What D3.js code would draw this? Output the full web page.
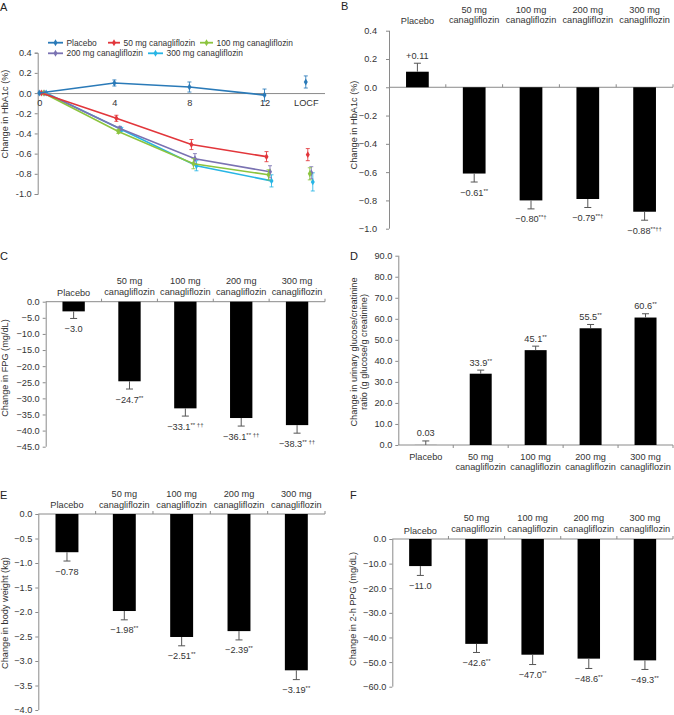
<!DOCTYPE html>
<html><head><meta charset="utf-8">
<script src="https://cdn.jsdelivr.net/npm/d3@7"></script>
<style>
body{margin:0;background:#fff}
svg{display:block;font-family:"Liberation Sans",Arial,Helvetica,sans-serif}
</style></head><body>
<svg id="c" width="674" height="715"></svg>
<script>
// ---------- DATA ----------
const categories = [["Placebo"],["50 mg","canagliflozin"],["100 mg","canagliflozin"],["200 mg","canagliflozin"],["300 mg","canagliflozin"]];

// Panel A: HbA1c over time
const weeks = [0, 4, 8, 12];
const locfWeek = 14.2;
const weekTickLabels = ["0", "4", "8", "12", "LOCF"];
const seriesNames = ["Placebo", "50 mg canagliflozin", "100 mg canagliflozin", "200 mg canagliflozin", "300 mg canagliflozin"];
const placeboTime = [0, 0.10, 0.06, -0.02];
const cana50Time  = [0, -0.25, -0.51, -0.63];
const cana100Time = [0, -0.38, -0.70, -0.81];
const cana200Time = [0, -0.35, -0.65, -0.78];
const cana300Time = [0, -0.36, -0.72, -0.87];
const placeboTimeErr = [0, 0.03, 0.05, 0.06];
const cana50TimeErr  = [0, 0.03, 0.05, 0.05];
const cana100TimeErr = [0, 0.02, 0.05, 0.05];
const cana200TimeErr = [0, 0.02, 0.05, 0.06];
const cana300TimeErr = [0, 0.02, 0.05, 0.06];
const locfValues = [0.11, -0.61, -0.80, -0.79, -0.88];
const locfErr = [0.06, 0.06, 0.06, 0.06, 0.09];

// Panel B: HbA1c change
const hba1c = [0.11, -0.61, -0.80, -0.79, -0.88];
const hba1cErr = [0.06, 0.06, 0.06, 0.06, 0.06];
const hba1cSup = ["", "**", "**\u2020", "**\u2020", "**\u2020\u2020"];
const hba1cTicks = [0.4, 0.2, 0.0, -0.2, -0.4, -0.6, -0.8, -1.0];

// Panel C: FPG
const fpg = [-3.0, -24.7, -33.1, -36.1, -38.3];
const fpgErr = [2.2, 2.4, 2.4, 2.5, 2.5];
const fpgSup = ["", "**", "** \u2020\u2020", "** \u2020\u2020", "** \u2020\u2020"];
const fpgTicks = [0, -5, -10, -15, -20, -25, -30, -35, -40, -45];

// Panel D: urinary glucose/creatinine
const ugcr = [0.03, 33.9, 45.1, 55.5, 60.6];
const ugcrErr = [1.9, 1.7, 1.9, 1.8, 1.8];
const ugcrSup = ["", "**", "**", "**", "**"];
const ugcrTicks = [0, 10, 20, 30, 40, 50, 60, 70, 80, 90];

// Panel E: body weight
const weight = [-0.78, -1.98, -2.51, -2.39, -3.19];
const weightErr = [0.18, 0.18, 0.18, 0.18, 0.19];
const weightSup = ["", "**", "**", "**", "**"];
const weightTicks = [0, -0.5, -1.0, -1.5, -2.0, -2.5, -3.0, -3.5, -4.0];

// Panel F: 2-h PPG
const ppg = [-11.0, -42.6, -47.0, -48.6, -49.3];
const ppgErr = [3.8, 3.5, 4.0, 4.0, 3.7];
const ppgSup = ["", "**", "**", "**", "**"];
const ppgTicks = [0, -10, -20, -30, -40, -50, -60];

// ---------- STYLE ----------
const seriesColors = ["#2a7ab8", "#e2363b", "#8cc43f", "#7a72b2", "#27b5e5"];
const axisColor = "#8a8a8a";
const textColor = "#333";
const FS = 9.2;
const LFS = 8.4;

const svg = d3.select("#c");

function styleAxis(g) {
  g.selectAll(".domain").attr("stroke", axisColor).attr("stroke-width", 1);
  g.selectAll(".tick line").attr("stroke", axisColor);
  g.selectAll(".tick text").attr("fill", textColor).style("font-size", FS + "px").style("font-family", "inherit");
}
function panelLetter(t, x, y) {
  svg.append("text").attr("x", x).attr("y", y).text(t)
    .attr("fill", "#222").style("font-size", "11px");
}
function yTitle(lines, cx, cy) {
  const t = svg.append("text").attr("transform", `translate(${cx},${cy}) rotate(-90)`)
    .attr("text-anchor", "middle").attr("fill", textColor).style("font-size", FS + "px");
  lines.forEach((l, i) => t.append("tspan").attr("x", 0).attr("dy", i === 0 ? (-(lines.length - 1) * 0.55 + 0.35) + "em" : "1.1em").text(l));
}

// ---------- PANEL A ----------
(function () {
  const x = d3.scaleLinear().domain([0, 12]).range([39.3, 264.5]);
  const y = d3.scaleLinear().domain([-1.0, 0.4]).range([194, 52.7]);
  const dodge = [0, 2, 4, 5.5, 7];
  const vals = [placeboTime, cana50Time, cana100Time, cana200Time, cana300Time];
  const errs = [placeboTimeErr, cana50TimeErr, cana100TimeErr, cana200TimeErr, cana300TimeErr];

  const ya = svg.append("g").attr("transform", "translate(37.7,0)")
    .call(d3.axisLeft(y).tickValues(d3.range(-1.0, 0.41, 0.2)).tickSize(3).tickPadding(3)
      .tickFormat(d => d3.format(".1f")(d).replace("\u2212", "-")));
  styleAxis(ya);
  const xa = svg.append("g").attr("transform", `translate(0,${y(0)})`)
    .call(d3.axisBottom(x).tickValues([0, 4, 8, 12, locfWeek]).tickSize(0).tickPadding(5)
      .tickFormat((d, i) => weekTickLabels[i]));
  styleAxis(xa);
  xa.select(".domain").attr("d", `M37.7,0.5H325`);
  xa.selectAll(".tick text").attr("dy", "0.9em");

  [4, 3, 2, 1, 0].forEach(s => {
    const c = seriesColors[s];
    const pts = weeks.map((w, i) => ({ x: x(w) + dodge[s], y: y(vals[s][i]), e: errs[s][i], v: vals[s][i] }));
    const locf = { x: x(locfWeek) + dodge[s], y: y(locfValues[s]), e: locfErr[s], v: locfValues[s] };
    const g = svg.append("g");
    g.append("path").datum(pts).attr("fill", "none").attr("stroke", c).attr("stroke-width", 1.6)
      .attr("d", d3.line().x(d => d.x).y(d => d.y));
    [...pts, locf].forEach(p => {
      if (p.e > 0) {
        const y1 = y(p.v + p.e), y2 = y(p.v - p.e);
        g.append("path").attr("d", `M${p.x},${y1}V${y2}M${p.x - 2},${y1}H${p.x + 2}M${p.x - 2},${y2}H${p.x + 2}`)
          .attr("stroke", c).attr("stroke-width", 1).attr("fill", "none").attr("opacity", 0.85);
      }
      g.append("path").attr("d", d3.symbol(d3.symbolDiamond, 14)()).attr("transform", `translate(${p.x},${p.y})`)
        .attr("fill", c);
    });
  });

  const legendPos = [[48, 42.7, 15], [108, 42.7, 12], [200, 42.7, 13], [48, 53.3, 15], [148, 53.3, 15]];
  seriesNames.forEach((n, i) => {
    const [lx, ly, len] = legendPos[i];
    const g = svg.append("g");
    g.append("line").attr("x1", lx).attr("x2", lx + len).attr("y1", ly).attr("y2", ly)
      .attr("stroke", seriesColors[i]).attr("stroke-width", 1.8);
    g.append("path").attr("d", d3.symbol(d3.symbolDiamond, 14)()).attr("transform", `translate(${lx + len / 2},${ly})`)
      .attr("fill", seriesColors[i]);
    g.append("text").attr("x", lx + len + 3.5).attr("y", ly + 3).text(n)
      .attr("fill", textColor).style("font-size", LFS + "px");
  });
  panelLetter("A", 0, 11);
  yTitle(["Change in HbA1c (%)"], 5, 114);
})();

// ---------- BAR PANELS ----------
function barPanel(o) {
  const x = d3.scaleBand().domain(d3.range(5)).range([o.left, o.right]).paddingInner(0.6).paddingOuter(0.3);
  const y = d3.scaleLinear().domain([d3.min(o.ticks), d3.max(o.ticks)]).range([o.bottom, o.top]);
  const ya = svg.append("g").attr("transform", `translate(${o.left},0)`)
    .call(d3.axisLeft(y).tickValues(o.ticks).tickSize(3).tickPadding(o.pad || 3).tickFormat(d3.format(".1f")));
  styleAxis(ya);
  ya.select(".domain").attr("d", `M0.5,${y.range()[0]}V${y.range()[1]}`);
  const y0 = y(0);
  svg.append("line").attr("x1", o.left).attr("x2", o.right).attr("y1", y0).attr("y2", y0)
    .attr("stroke", axisColor).attr("stroke-width", 1);
  const step = x.step();
  d3.range(1, 6).forEach(i => {
    const bx = o.left + step * i;
    svg.append("line").attr("x1", bx).attr("x2", bx).attr("y1", y0).attr("y2", y0 + (o.labelsBelow ? 3 : -3))
      .attr("stroke", axisColor);
  });
  svg.append("g").selectAll("rect").data(o.values).join("rect")
    .attr("x", (d, i) => x(i)).attr("width", x.bandwidth())
    .attr("y", d => Math.min(y(d), y0)).attr("height", d => Math.abs(y(d) - y0))
    .attr("fill", "#000");
  o.values.forEach((v, i) => {
    const cx = x(i) + x.bandwidth() / 2;
    const ve = v >= 0 ? v + o.errs[i] : v - o.errs[i];
    const ye = y(ve), yv = y(v);
    svg.append("path").attr("d", `M${cx},${yv}V${ye}M${cx - 3.5},${ye}H${cx + 3.5}`)
      .attr("stroke", "#555").attr("stroke-width", 1).attr("fill", "none");
    const ly = v >= 0 ? ye - 4.5 : ye + 13.5;
    const t = svg.append("text").attr("x", cx).attr("y", ly).attr("text-anchor", "middle")
      .attr("fill", textColor).style("font-size", FS + "px");
    t.append("tspan").text(o.fmt(v, i));
    if (o.sups[i]) t.append("tspan").attr("dy", -3).style("font-size", "6px").text(o.sups[i]);
  });
  categories.forEach((lines, i) => {
    const cx = x(i) + x.bandwidth() / 2;
    const t = svg.append("text").attr("text-anchor", "middle").attr("fill", textColor).style("font-size", FS + "px");
    if (lines.length === 1) {
      t.attr("x", cx).attr("y", o.catY[2]).text(lines[0]);
    } else {
      t.append("tspan").attr("x", cx).attr("y", o.catY[0]).text(lines[0]);
      t.append("tspan").attr("x", cx).attr("y", o.catY[1]).text(lines[1]);
    }
  });
}

barPanel({ left: 389, right: 673, top: 30.7, bottom: 228.7, ticks: hba1cTicks, pad: 9,
  values: hba1c, errs: hba1cErr, sups: hba1cSup, fmt: v => d3.format("+.2f")(v), catY: [13, 23, 24] });
panelLetter("B", 341, 10);
yTitle(["Change in HbA1c (%)"], 354, 125);

barPanel({ left: 45.7, right: 325, top: 301.7, bottom: 446.7, ticks: fpgTicks,
  values: fpg, errs: fpgErr, sups: fpgSup, fmt: v => d3.format(".1f")(v), catY: [284, 294.5, 296] });
panelLetter("C", 0, 260);
yTitle(["Change in FPG (mg/dL)"], 4.5, 368);

barPanel({ left: 398.3, right: 673, top: 255.7, bottom: 445, ticks: ugcrTicks, labelsBelow: true,
  values: ugcr, errs: ugcrErr, sups: ugcrSup, fmt: v => v < 1 ? d3.format(".2f")(v) : d3.format(".1f")(v), catY: [460, 470, 460] });
panelLetter("D", 350, 260);
yTitle(["Change in urinary glucose/creatinine", "ratio (g glucose/g creatinine)"], 359, 352);

barPanel({ left: 38.3, right: 325, top: 514, bottom: 710, ticks: weightTicks,
  values: weight, errs: weightErr, sups: weightSup, fmt: v => d3.format(".2f")(v), catY: [497, 507.5, 507.5] });
panelLetter("E", 0, 499);
yTitle(["Change in body weight (kg)"], 4.5, 613);

barPanel({ left: 392.3, right: 673, top: 539, bottom: 686.7, ticks: ppgTicks,
  values: ppg, errs: ppgErr, sups: ppgSup, fmt: v => d3.format(".1f")(v), catY: [521, 532, 533.5] });
panelLetter("F", 350, 499);
yTitle(["Change in 2-h PPG (mg/dL)"], 353, 609);
</script>
</body></html>
